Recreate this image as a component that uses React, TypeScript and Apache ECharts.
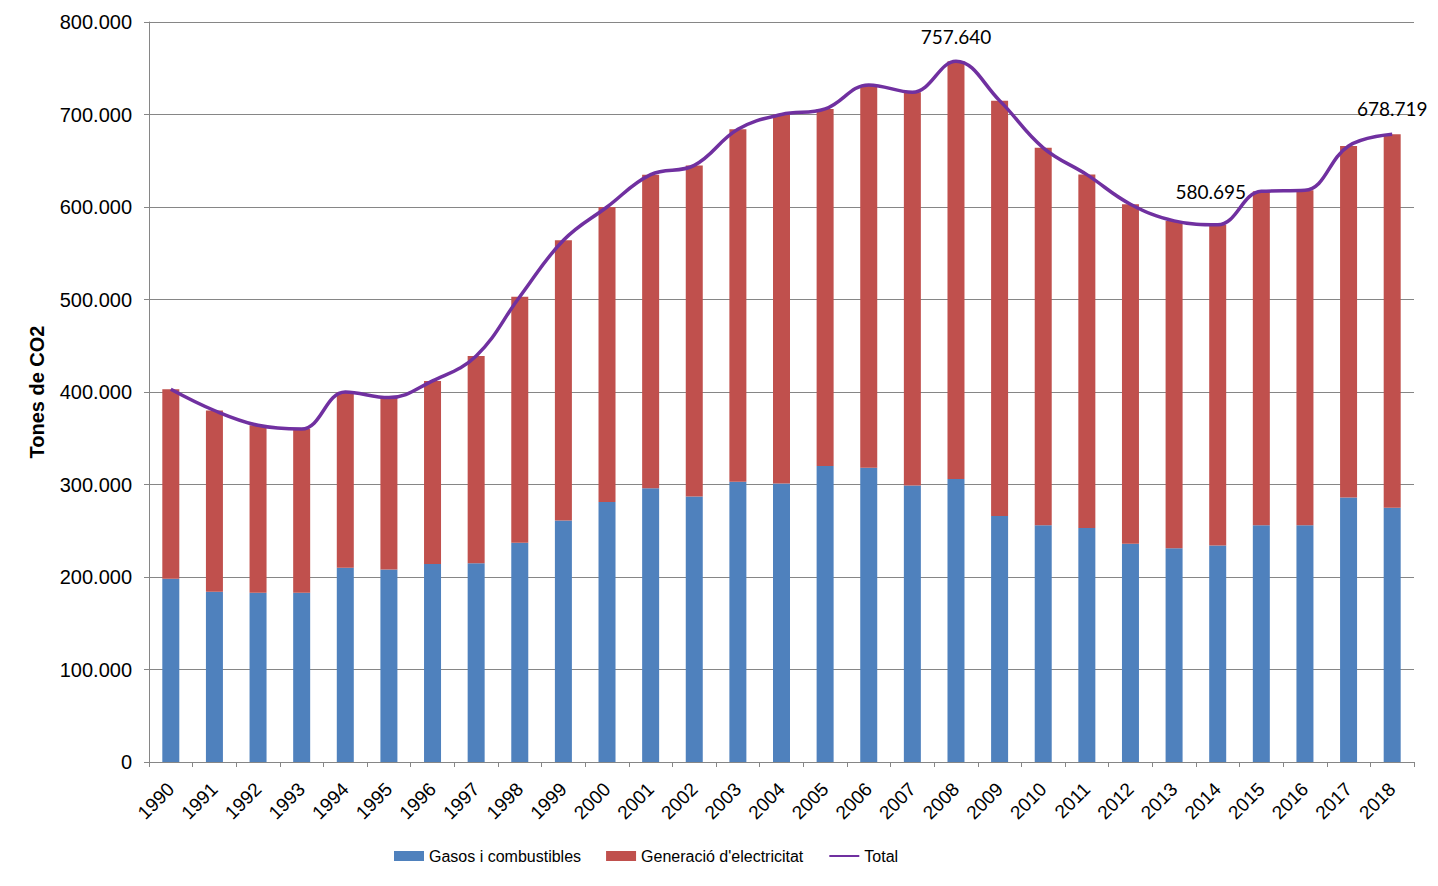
import React, { useEffect, useRef } from "react";
import * as echarts from "echarts";

const years = ["1990","1991","1992","1993","1994","1995","1996","1997","1998","1999","2000","2001","2002","2003","2004","2005","2006","2007","2008","2009","2010","2011","2012","2013","2014","2015","2016","2017","2018"];
const gasos = [198000,184000,183000,183000,210000,208000,214000,215000,237000,261000,281000,296000,287000,303000,301000,320000,318000,299000,306000,266000,256000,253000,236000,231000,234000,256000,256000,286000,275000];
const electricitat = [205000,196000,181000,177000,190000,186000,198000,224000,266000,303000,319000,339000,358000,381000,399000,386000,414000,425000,451640,449000,408000,382000,367000,354000,346695,361000,362000,380000,403719];
const total = [403000,380000,364000,360000,400000,394000,412000,439000,503000,564000,600000,635000,645000,684000,700000,706000,732000,724000,757640,715000,664000,635000,603000,585000,580695,617000,618000,666000,678719];
const labelledYears = ["2008","2014","2018"];

const fmt = (v: number) => Math.round(v).toString().replace(/\B(?=(\d{3})+(?!\d))/g, ".");

export default function App() {
  const ref = useRef<HTMLDivElement>(null);
  useEffect(() => {
    document.body.style.margin = "0";
    const chart = echarts.init(ref.current!, null, { renderer: "svg" });
    const axisFont = "'Liberation Sans', Arial, sans-serif";
    const labelFont = "Lato, 'Open Sans', sans-serif";
    chart.setOption({
      animation: false,
      backgroundColor: "#ffffff",
      grid: { left: 149, right: 24, top: 22, bottom: 124, containLabel: false },
      legend: {
        top: 843,
        left: 389,
        itemGap: 25,
        itemWidth: 30,
        itemHeight: 10,
        textStyle: { fontFamily: axisFont, fontSize: 16, color: "#000" },
        data: [
          { name: "Gasos i combustibles", icon: "rect" },
          { name: "Generació d'electricitat", icon: "rect" },
          { name: "Total", itemStyle: { opacity: 0 } },
        ],
      },
      xAxis: {
        type: "category",
        data: years,
        boundaryGap: true,
        axisLine: { lineStyle: { color: "#868686", width: 1 } },
        axisTick: { show: true, length: 5, alignWithLabel: false, lineStyle: { color: "#868686" } },
        axisLabel: { rotate: 45, interval: 0, margin: 24, fontFamily: axisFont, fontSize: 19, color: "#000" },
      },
      yAxis: {
        type: "value",
        min: 0,
        max: 800000,
        interval: 100000,
        name: "Tones de CO2",
        nameLocation: "middle",
        nameGap: 102,
        nameTextStyle: { fontFamily: axisFont, fontSize: 20, fontWeight: "bold", color: "#000" },
        axisLine: { show: true, lineStyle: { color: "#868686", width: 1 } },
        axisTick: { show: true, length: 5, inside: false, lineStyle: { color: "#868686" } },
        splitLine: { lineStyle: { color: "#868686", width: 1 } },
        axisLabel: { margin: 17, fontFamily: axisFont, fontSize: 20, color: "#000", formatter: (v: number) => fmt(v) },
      },
      series: [
        {
          name: "Gasos i combustibles",
          type: "bar",
          stack: "co2",
          barWidth: 17,
          itemStyle: { color: "#4F81BD" },
          data: gasos,
        },
        {
          name: "Generació d'electricitat",
          type: "bar",
          stack: "co2",
          barWidth: 17,
          itemStyle: { color: "#C0504D" },
          data: electricitat,
        },
        {
          name: "Total",
          type: "line",
          smooth: 0.4,
          symbol: "none",
          showSymbol: false,
          lineStyle: { color: "#7030A0", width: 3.5 },
          itemStyle: { color: "#7030A0" },
          z: 5,
          data: total,
          markPoint: {
            symbol: "circle",
            symbolSize: 1,
            itemStyle: { color: "rgba(0,0,0,0)" },
            silent: true,
            data: years
              .map((y, i) => ({ y, i }))
              .filter((d) => labelledYears.includes(d.y))
              .map((d) => ({
                coord: [d.y, total[d.i]],
                value: total[d.i],
                label: {
                  show: true,
                  position: "top",
                  distance: d.y === "2008" ? 15 : d.y === "2014" ? 23 : 16,
                  offset: d.y === "2014" ? [-7, 0] : [0, 0],
                  formatter: (p: any) => fmt(p.value),
                  fontFamily: labelFont,
                  fontSize: 19,
                  color: "#000",
                },
              })),
          },
        },
      ],
    });
    return () => chart.dispose();
  }, []);
  return <div ref={ref} style={{ width: 1438, height: 886 }} />;
}
